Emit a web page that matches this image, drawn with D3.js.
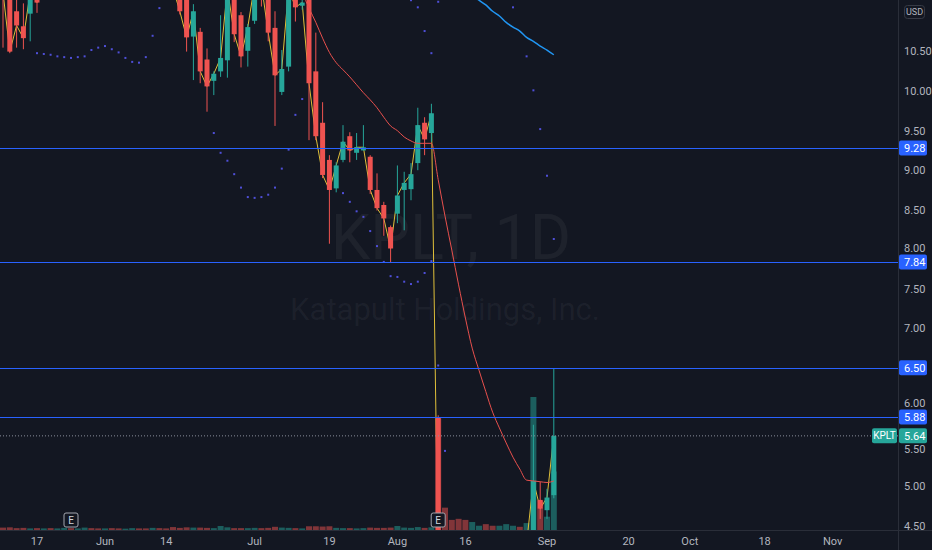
<!DOCTYPE html>
<html><head><meta charset="utf-8">
<script src="https://cdn.jsdelivr.net/npm/d3@7"></script>
<style>html,body{margin:0;padding:0;background:#131722;overflow:hidden}</style>
</head><body><svg id="c" width="932" height="550"></svg>
<script>
// ---------- DATA ----------
const firstBar = -5; // bar number of first date (0 = 2021-05-17)
const dates = ["2021-05-10","2021-05-11","2021-05-12","2021-05-13","2021-05-14",
"2021-05-17","2021-05-18","2021-05-19","2021-05-20","2021-05-21",
"2021-05-24","2021-05-25","2021-05-26","2021-05-27","2021-05-28",
"2021-06-01","2021-06-02","2021-06-03","2021-06-04",
"2021-06-07","2021-06-08","2021-06-09","2021-06-10","2021-06-11",
"2021-06-14","2021-06-15","2021-06-16","2021-06-17","2021-06-18",
"2021-06-21","2021-06-22","2021-06-23","2021-06-24","2021-06-25",
"2021-06-28","2021-06-29","2021-06-30","2021-07-01","2021-07-02",
"2021-07-06","2021-07-07","2021-07-08","2021-07-09",
"2021-07-12","2021-07-13","2021-07-14","2021-07-15","2021-07-16",
"2021-07-19","2021-07-20","2021-07-21","2021-07-22","2021-07-23",
"2021-07-26","2021-07-27","2021-07-28","2021-07-29","2021-07-30",
"2021-08-02","2021-08-03","2021-08-04","2021-08-05","2021-08-06",
"2021-08-09","2021-08-10","2021-08-11","2021-08-12","2021-08-13",
"2021-08-16","2021-08-17","2021-08-18","2021-08-19","2021-08-20",
"2021-08-23","2021-08-24","2021-08-25","2021-08-26","2021-08-27",
"2021-08-30","2021-08-31","2021-09-01","2021-09-02"];
const open = [11.50,11.35,11.01,10.82,10.98, 11.30,11.35,11.55,11.48,11.62,
11.78,11.52,11.66,11.98,11.82, 11.60,11.75,11.55,11.45, 11.60,11.84,11.70,11.50,11.66,
11.45,11.35,11.22,11.25,10.69, 10.75,10.40,10.13,10.25,10.39, 11.25,10.96,10.51,10.89,11.55,
11.30,10.80,9.99,10.31, 11.30,11.08,11.25,10.25,9.60, 9.13,8.77,9.13,9.43,9.22,
9.25,9.17,8.75,8.56,8.28, 8.45,8.75,8.76,9.09,9.60, 9.47,5.87,4.30,4.10,4.00,
3.95,3.86,3.95,4.05,3.98, 3.92,4.00,4.08,4.16,4.10, 4.30,4.83,4.70,4.89];
const high = [11.70,11.45,11.20,11.11,11.35, 11.40,11.62,11.80,11.70,11.90,
11.95,11.75,12.10,12.20,11.95, 11.85,11.88,11.70,11.68, 11.90,12.00,11.85,11.72,11.80,
11.60,11.55,11.40,11.35,11.10, 10.80,10.54,10.25,10.96,11.45, 11.40,11.00,10.85,11.50,11.70,
11.45,11.01,10.52,11.50, 11.45,11.30,11.35,10.74,9.86, 9.19,9.10,9.57,9.48,9.47,
9.57,9.19,8.96,8.60,8.30, 9.06,8.98,9.09,9.79,9.67, 9.84,5.90,4.38,4.25,4.15,
4.05,4.05,4.08,4.10,4.02, 4.05,4.15,4.20,4.22,4.35, 5.78,5.06,4.97,6.49];
const low = [10.55,10.48,10.55,10.53,10.63, 10.99,11.25,11.40,11.30,11.50,
11.45,11.38,11.60,11.75,11.55, 11.42,11.50,11.35,11.30, 11.52,11.60,11.45,11.35,11.40,
11.25,11.20,10.97,10.50,10.14, 10.10,9.74,9.95,10.18,10.17, 10.62,10.30,10.31,10.85,11.07,
10.63,9.56,9.95,10.25, 10.88,11.03,9.38,9.38,8.90, 8.07,8.72,9.10,9.10,9.13,
9.25,8.70,8.49,8.17,7.83, 8.33,8.24,8.62,9.00,9.19, 9.36,3.85,3.95,3.90,3.85,
3.80,3.82,3.90,3.92,3.88, 3.90,3.96,4.04,4.05,4.08, 4.25,4.59,4.59,4.85];
const close = [11.25,10.50,10.83,10.67,11.25, 11.12,11.55,11.48,11.62,11.78,
11.52,11.66,11.98,11.82,11.60, 11.75,11.55,11.45,11.60, 11.84,11.70,11.50,11.66,11.45,
11.35,11.30,11.01,10.68,11.01, 10.25,10.06,10.22,10.42,11.30, 10.72,10.44,10.81,11.35,11.35,
10.74,10.20,10.28,11.30, 11.06,11.12,10.10,9.43,8.94, 8.75,9.06,9.36,9.25,9.29,
9.29,8.75,8.52,8.39,8.01, 8.68,8.84,8.95,9.57,9.39, 9.72,3.99,4.05,3.96,3.92,
3.86,3.98,4.02,3.96,3.92, 4.00,4.10,4.15,4.10,4.28, 5.07,4.72,4.86,5.64];
const volume = [0.45,0.50,0.35,0.40,0.30, 0.35,0.30,0.35,0.30,0.40,
0.35,0.30,0.45,0.35,0.30, 0.30,0.35,0.30,0.25, 0.35,0.30,0.30,0.40,0.35,
0.30,0.55,0.40,0.50,0.45, 0.45,0.40,0.35,0.75,0.50, 0.35,0.35,0.35,0.40,0.35,
0.40,0.60,0.45,0.40, 0.35,0.30,0.70,0.70,0.65, 0.70,0.40,0.35,0.35,0.30,
0.35,0.45,0.40,0.40,0.45, 0.75,0.45,0.40,0.55,0.40, 0.50,21.0,4.2,1.9,2.1,
1.9,1.5,0.8,1.1,0.8, 0.8,1.1,0.8,0.6,1.3, 25.0,5.5,2.5,11.0];

// indicator series (bar number, price)
const redMaBars = d3.range(38, 77);
const redMa = [11.47,11.25,11.05,10.87,10.67,10.49,10.36,10.27,10.18,10.08,9.98,9.89,9.79,9.67,9.56,9.50,9.42,9.37,9.34,9.34,9.34,
8.88,8.42,7.99,7.55,7.13,6.75,6.47,6.20,5.94,5.74,5.55,5.37,5.22,5.08,5.07,5.06,5.05,5.07];
const blueMaBars = d3.range(60, 77);
const blueMa = [11.60,11.50,11.42,11.30,11.22,11.15,11.09,11.01,10.95,10.87,10.81,10.76,10.68,10.63,10.57,10.52,10.46];
const dotBars = [0,1,2,3,4,5,6,7,8,9,10,11,12,13,14,15,16,17,18,
26,27,28,29,30,31,32,33,34,35,36,37,38,39,
45,46,47,48,49,50,51,52,53,54,55,56,57,58,59,60,
55,56,57,58,59, 70,72,73,74,75,76];
const dotPrices = [10.48,10.47,10.46,10.44,10.43,10.42,10.43,10.44,10.52,10.55,10.57,10.53,10.49,10.42,10.37,10.36,10.43,10.70,11.05,
9.47,9.22,9.12,8.95,8.78,8.66,8.65,8.66,8.69,8.78,9.02,9.26,9.70,9.90,
8.71,8.60,8.48,8.41,8.23,8.04,7.84,7.66,7.65,7.59,7.56,7.59,7.70,7.85,6.53,5.45,
11.15,11.06,10.76,10.48,11.13, 11.06,10.44,10.01,9.52,8.93,8.13];

const levels = [9.28, 7.84, 6.50, 5.88];
const lastPrice = 5.64, symbol = "KPLT";
const earningsBars = [5, 59];
const tickLabels = ["17","Jun","14","Jul","19","Aug","16","Sep","20","Oct","18","Nov"];
const tickBars = [0,10,19,32,43,53,63,75,87,96,107,117];
const priceTicks = d3.range(4.5, 10.51, 0.5);

// ---------- CHART ----------
const W = 932, H = 550, PW = 898, PH = 530;
const UP = "#26a69a", DN = "#ef5350";
const FONT = "'Liberation Sans Narrow', Roboto, sans-serif";
const svg = d3.select("#c");
svg.append("rect").attr("width", W).attr("height", H).attr("fill", "#131722");

const x = d3.scaleLinear().domain([0, 117]).range([37, 832.6]);
const y = d3.scaleLinear().domain([4.5, 10.5]).range([526, 51.6]);
const vy = d3.scaleLinear().domain([0, 25]).range([PH, 397]);

svg.append("defs").append("clipPath").attr("id", "clip")
  .append("rect").attr("x", 0).attr("y", 0).attr("width", PW).attr("height", PH);

// watermark
const wm = svg.append("g").attr("fill", "rgba(178,181,190,0.07)").attr("font-family", "Roboto, sans-serif").attr("text-anchor", "middle");
wm.append("text").attr("x", 451).attr("y", 259).attr("font-size", 63).text("KPLT, 1D");
wm.append("text").attr("x", 445).attr("y", 320).attr("font-size", 31).text("Katapult Holdings, Inc.");

const g = svg.append("g").attr("clip-path", "url(#clip)");
const bars = dates.map((d, k) => ({
  bar: k + firstBar, o: open[k], h: high[k], l: low[k], c: close[k], v: volume[k]
}));

// volume
g.append("g").selectAll("rect").data(bars).join("rect")
  .attr("x", d => x(d.bar) - 3).attr("width", 6)
  .attr("y", d => vy(d.v)).attr("height", d => PH - vy(d.v))
  .attr("fill", d => d.c >= d.o ? UP : DN).attr("fill-opacity", 0.5);

// close line (yellow) under candles
g.append("path").datum(bars)
  .attr("d", d3.line().x(d => x(d.bar)).y(d => y(d.c)))
  .attr("fill", "none").attr("stroke", "#e0c03a").attr("stroke-width", 1);

// candles
const cg = g.append("g").selectAll("g").data(bars).join("g");
cg.append("line").attr("x1", d => x(d.bar)).attr("x2", d => x(d.bar))
  .attr("y1", d => y(d.h)).attr("y2", d => y(d.l))
  .attr("stroke", d => d.c >= d.o ? UP : DN).attr("stroke-width", 1);
cg.append("rect").attr("x", d => x(d.bar) - 2.5).attr("width", 5)
  .attr("y", d => y(Math.max(d.o, d.c)))
  .attr("height", d => Math.max(1, Math.abs(y(d.o) - y(d.c))))
  .attr("fill", d => d.c >= d.o ? UP : DN);

// moving averages
g.append("path").datum(redMaBars.map((b, i) => [b, redMa[i]]))
  .attr("d", d3.line().x(d => x(d[0])).y(d => y(d[1])).curve(d3.curveMonotoneX))
  .attr("fill", "none").attr("stroke", "#e8504d").attr("stroke-width", 1);
g.append("path").datum(blueMaBars.map((b, i) => [b, blueMa[i]]))
  .attr("d", d3.line().x(d => x(d[0])).y(d => y(d[1])).curve(d3.curveMonotoneX))
  .attr("fill", "none").attr("stroke", "#2196f3").attr("stroke-width", 1.5);

// dots
g.append("g").selectAll("rect").data(dotBars.map((b, i) => [b, dotPrices[i]])).join("rect")
  .attr("x", d => x(d[0]) - 1).attr("y", d => y(d[1]) - 1).attr("width", 2).attr("height", 2)
  .attr("fill", "#4f4fd8");

// last price dotted line
g.append("line").attr("x1", 0).attr("x2", PW).attr("y1", y(lastPrice)).attr("y2", y(lastPrice))
  .attr("stroke", "#8a8f9c").attr("stroke-dasharray", "1,2").attr("stroke-width", 1);

// horizontal levels (1px filled rects)
svg.append("g").selectAll("rect").data(levels).join("rect")
  .attr("x", 0).attr("width", PW).attr("y", d => Math.round(y(d))).attr("height", 1)
  .attr("fill", "#2962ff");

// earnings markers
const eg = svg.append("g").selectAll("g").data(earningsBars).join("g");
eg.append("rect").attr("x", d => x(d) - 7).attr("y", 513).attr("width", 14).attr("height", 14).attr("rx", 2)
  .attr("fill", "#131722").attr("stroke", "#a3a6af").attr("stroke-width", 1);
eg.append("text").attr("x", d => x(d)).attr("y", 524).attr("text-anchor", "middle")
  .attr("font-family", "Roboto, sans-serif").attr("font-size", 10).attr("fill", "#d1d4dc").text("E");

// axes separators
svg.append("line").attr("x1", PW + 0.5).attr("x2", PW + 0.5).attr("y1", 0).attr("y2", H).attr("stroke", "#2a2e39");
svg.append("line").attr("x1", 0).attr("x2", W).attr("y1", PH + 0.5).attr("y2", PH + 0.5).attr("stroke", "#2a2e39");

// price axis (labels nudged away from the value badges so they stay readable)
const badgeYs = levels.concat([lastPrice]).map(v => y(v));
function tickY(v) {
  let ty = y(v);
  badgeYs.forEach(by => {
    const d = ty - by;
    if (Math.abs(d) > 0.5 && Math.abs(d) < 13.5) ty = by + Math.sign(d) * 13.5;
  });
  return ty;
}
svg.append("g").selectAll("text").data(priceTicks.filter(v => Math.abs(v - 6.5) > 0.001)).join("text")
  .attr("x", 904).attr("y", d => tickY(d)).attr("dy", "0.35em")
  .attr("font-family", FONT).attr("font-size", 11).attr("fill", "#b2b5be")
  .text(d => d3.format(".2f")(d));

// level labels
const lg = svg.append("g").selectAll("g").data(levels).join("g");
lg.append("rect").attr("x", PW + 1).attr("y", d => y(d) - 7.5).attr("width", 28).attr("height", 15).attr("rx", 2).attr("fill", "#2962ff");
lg.append("text").attr("x", 904).attr("y", d => y(d)).attr("dy", "0.35em")
  .attr("font-family", FONT).attr("font-size", 11).attr("fill", "#ffffff").text(d => d3.format(".2f")(d));

// last price labels
svg.append("rect").attr("x", 872).attr("y", y(lastPrice) - 7.5).attr("width", 25).attr("height", 15).attr("rx", 2).attr("fill", UP);
svg.append("text").attr("x", 884.5).attr("y", y(lastPrice)).attr("dy", "0.35em").attr("text-anchor", "middle")
  .attr("font-family", FONT).attr("font-size", 10).attr("fill", "#ffffff").text(symbol);
svg.append("rect").attr("x", PW + 1).attr("y", y(lastPrice) - 7.5).attr("width", 28).attr("height", 15).attr("rx", 2).attr("fill", UP);
svg.append("text").attr("x", 904).attr("y", y(lastPrice)).attr("dy", "0.35em")
  .attr("font-family", FONT).attr("font-size", 11).attr("fill", "#ffffff").text(d3.format(".2f")(lastPrice));

// USD badge
svg.append("rect").attr("x", 904.5).attr("y", 5.5).attr("width", 20).attr("height", 13).attr("rx", 3)
  .attr("fill", "none").attr("stroke", "#363a45");
svg.append("text").attr("x", 914.5).attr("y", 12).attr("dy", "0.35em").attr("text-anchor", "middle")
  .attr("font-family", FONT).attr("font-size", 9).attr("fill", "#b2b5be").text("USD");

// time axis
svg.append("g").selectAll("text").data(tickBars).join("text")
  .attr("x", d => x(d)).attr("y", 541).attr("dy", "0.35em").attr("text-anchor", "middle")
  .attr("font-family", FONT).attr("font-size", 11).attr("fill", "#b2b5be")
  .text((d, i) => tickLabels[i]);
</script></body></html>
